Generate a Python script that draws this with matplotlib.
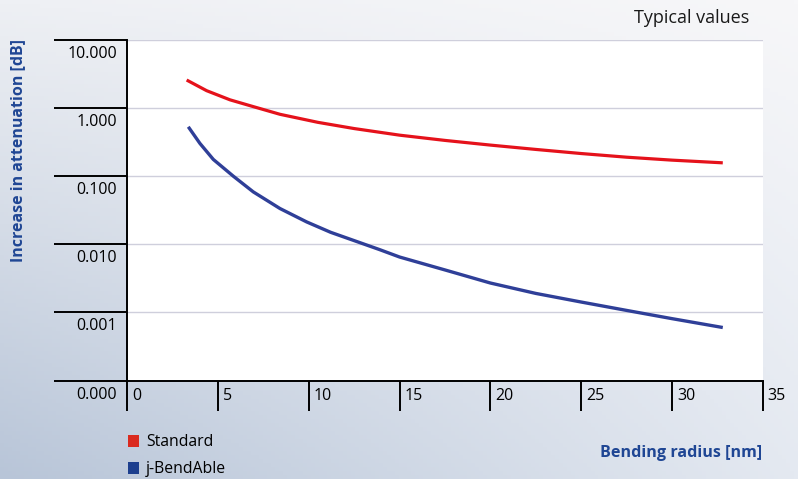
import numpy as np
import matplotlib
matplotlib.use("Agg")
import matplotlib.pyplot as plt
from matplotlib.patches import Patch
from matplotlib.transforms import ScaledTranslation

plt.rcParams['font.family'] = ['Open Sans', 'DejaVu Sans']

# bending radius vs. added attenuation
radius_std = [3.27, 4.37, 5.66, 6.94, 8.41, 10.5, 12.5, 15.0, 17.5, 20.0, 22.5, 25.0, 27.5, 30.0, 32.8]
atten_std = [2.58, 1.80, 1.32, 1.05, 0.81, 0.617, 0.50, 0.40, 0.335, 0.286, 0.247, 0.215, 0.19, 0.172, 0.157]

radius_bend = [3.36, 4.0, 4.74, 5.84, 6.94, 8.41, 9.88, 11.2, 13.9, 15.0, 17.5, 20.0, 22.5, 25.0, 27.5, 30.0, 32.8]
atten_bend = [0.531, 0.303, 0.176, 0.100, 0.0588, 0.0335, 0.0213, 0.0150, 0.00835, 0.0065, 0.0042, 0.0027,
              0.0019, 0.00142, 0.00107, 0.00081, 0.0006]

y_ticks = [1e-4, 1e-3, 1e-2, 1e-1, 1, 10]
y_labels = ['0.000', '0.001', '0.010', '0.100', '1.000', '10.000']
x_ticks = [0, 5, 10, 15, 20, 25, 30, 35]

RED = '#e5121b'
BLUE = '#2f3f98'
TITLE_BLUE = '#1f4694'

fig = plt.figure(figsize=(7.98, 4.79), dpi=100)

# soft blue-grey backdrop, darker towards the lower left
bg = fig.add_axes([0, 0, 1, 1], zorder=-10)
tl = np.array([238, 240, 244]) / 255
tr = np.array([247, 247, 249]) / 255
bl = np.array([184, 197, 216]) / 255
br = np.array([228, 233, 241]) / 255
u = np.linspace(0, 1, 200)[None, :, None]
v = np.linspace(0, 1, 120)[:, None, None]
grad = (1 - v) * ((1 - u) * tl + u * tr) + v * ((1 - u) * bl + u * br)
bg.imshow(grad, aspect='auto', extent=[0, 1, 0, 1])
bg.axis('off')

ax = fig.add_axes([0.1595, 0.2056, 0.7963, 0.711])
ax.set_facecolor('white')
ax.plot(radius_std, atten_std, color=RED, lw=2.3, solid_capstyle='butt', solid_joinstyle='round', zorder=3)
ax.plot(radius_bend, atten_bend, color=BLUE, lw=2.4, solid_capstyle='butt', solid_joinstyle='round', zorder=3)

ax.set_yscale('log')
ax.set_ylim(1e-4, 10)
ax.set_xlim(0, 35)
ax.yaxis.set_minor_locator(matplotlib.ticker.NullLocator())
ax.set_yticks(y_ticks)
ax.set_yticklabels(y_labels)
ax.set_xticks(x_ticks)
ax.set_xticklabels([str(t) for t in x_ticks])

ax.grid(axis='y', color='#cfcfdc', lw=1.0)
for s in ['top', 'right']:
    ax.spines[s].set_visible(False)
ax.spines['left'].set_linewidth(1.4)
ax.spines['bottom'].set_linewidth(1.4)

ax.tick_params(axis='y', length=52.5, width=1.4, pad=-45, labelsize=11.5, colors='black')
ax.tick_params(axis='x', length=21.5, width=1.4, pad=-10.5, labelsize=11.5, colors='black')

# y labels sit just under their tick lines, x labels just right of them
for lab in ax.get_yticklabels():
    lab.set_transform(lab.get_transform() + ScaledTranslation(0, -12 / 100, fig.dpi_scale_trans))
for lab in ax.get_xticklabels():
    lab.set_horizontalalignment('left')
    lab.set_verticalalignment('center')
    lab.set_transform(lab.get_transform() + ScaledTranslation(5 / 100, 0, fig.dpi_scale_trans))

fig.text(0.0225, 0.685, 'Increase in attenuation [dB]', rotation=90, ha='center', va='center',
         color=TITLE_BLUE, fontsize=11.5, fontweight='bold')
fig.text(0.955, 0.054, 'Bending radius [nm]', ha='right', va='center',
         color=TITLE_BLUE, fontsize=11.6, fontweight='bold')
fig.text(0.939, 0.962, 'Typical values', ha='right', va='center', color='#1a1a1a', fontsize=13)

handles = [Patch(facecolor='#da2a1f', label='Standard'),
           Patch(facecolor='#1d3f8e', label='j-BendAble')]
fig.legend(handles=handles, loc='upper left', bbox_to_anchor=(0.160, 0.093), frameon=False,
           handlelength=0.72, handleheight=0.72, handletextpad=0.45, labelspacing=0.7,
           fontsize=11.3, borderaxespad=0, borderpad=0)

fig.savefig('out.png', dpi=100)
